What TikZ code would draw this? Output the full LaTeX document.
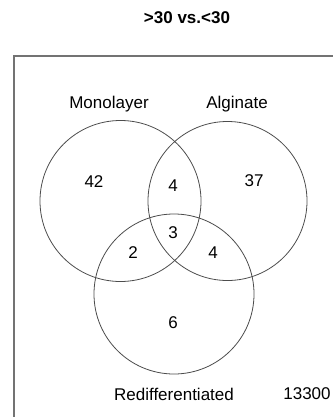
\documentclass[tikz,border=0pt]{standalone}
\usepackage{fontspec}
\setmainfont{Liberation Sans}
\begin{document}
\begin{tikzpicture}[x=1pt,y=-1pt,
  setline/.style={draw=black!70,line width=0.8pt},
  frameline/.style={draw=black!55,line width=1.4pt},
  lab/.style={inner sep=0pt,font=\fontsize{17}{20}\selectfont},
  num/.style={inner sep=0pt,font=\fontsize{17}{20}\selectfont},
  ttl/.style={inner sep=0pt,font=\fontsize{17}{20}\selectfont\bfseries}]
\useasboundingbox (0,0) rectangle (332,417);
% plotting frame, running past the right and bottom edges
\draw[frameline] (340,56) -- (14,56) -- (14,425);
% the three sets
\draw[setline] (120.5,201) circle (80.5);
\draw[setline] (227.5,201) circle (79.5);
\draw[setline] (174,294) circle (80);
% title
\node[ttl] (title) at (187,18) {>30 vs.<30};
% set labels
\node[lab] (mono) at (109,104) {Monolayer};
\node[lab] (alg) at (237,104) {Alginate};
\node[lab] (redif) at (174,394) {Redifferentiated};
\node[lab] (rest) at (307,394) {13300};
% region counts
\node[num] (nM) at (94,182) {42};
\node[num] (nA) at (254,181) {37};
\node[num] (nMA) at (173,186) {4};
\node[num] (nMAR) at (173,233) {3};
\node[num] (nMR) at (133,253) {2};
\node[num] (nAR) at (213,253) {4};
\node[num] (nR) at (173,323) {6};
\end{tikzpicture}
\end{document}
